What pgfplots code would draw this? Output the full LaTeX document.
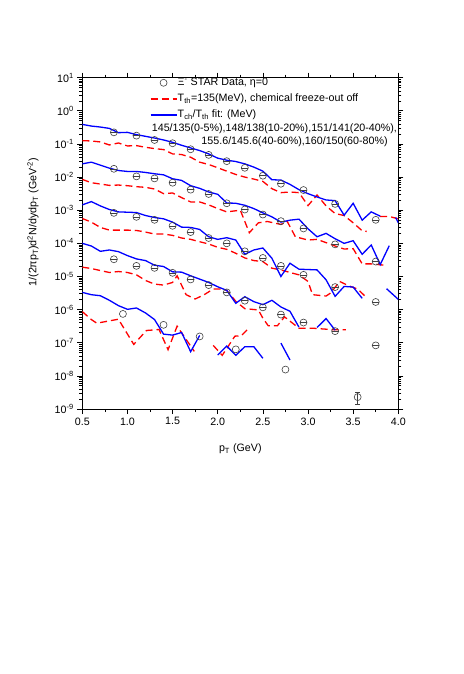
\documentclass[border=0pt]{standalone}
\usepackage{fontspec}
\setmainfont{Liberation Sans}
\usepackage{pgfplots}
\pgfplotsset{compat=1.18}
\begin{document}
\begin{tikzpicture}
\path[use as bounding box] (-82.3pt,-265pt) rectangle (380.7pt,409pt);
\begin{axis}[
  at={(0pt,0pt)}, anchor=south west,
  scale only axis, width=316pt, height=331.3pt,
  ymode=log, xmin=0.5, xmax=4.0, ymin=1e-9, ymax=1e1,
  font=\fontsize{10.7}{12.8}\selectfont,
  xtick={0.5,1,1.5,2,2.5,3,3.5,4},
  xticklabels={0.5,1.0,1.5,2.0,2.5,3.0,3.5,4.0},
  minor x tick num=1,
  ytickten={-9,-8,-7,-6,-5,-4,-3,-2,-1,0,1},
  yticklabels={10\textsuperscript{-9},10\textsuperscript{-8},10\textsuperscript{-7},10\textsuperscript{-6},10\textsuperscript{-5},10\textsuperscript{-4},10\textsuperscript{-3},10\textsuperscript{-2},10\textsuperscript{-1},10\textsuperscript{0},10\textsuperscript{1}},
  tick align=outside,
  major tick length=5pt, minor tick length=3pt,
  axis line style={line width=0.9pt},
  every tick/.style={line width=0.7pt, black},
  xlabel={p\textsubscript{T} (GeV)},
  ylabel={1/(2πp\textsubscript{T})d\textsuperscript{2}N/dydp\textsubscript{T} (GeV\textsuperscript{-2})},
  xlabel style={at={(axis description cs:0.5,-0.121)}, anchor=center},
  ylabel style={at={(axis description cs:-0.156,0.564)}, anchor=center},
  unbounded coords=jump,
  legend style={at={(axis description cs:0.214,1.002)}, anchor=north west, draw=none, fill=none,
    inner sep=0pt, outer sep=0pt, row sep=4.6pt,
    font=\fontsize{10.7}{12.8}\selectfont,
    nodes={inner sep=0.5pt, text height=8pt, text depth=2.5pt}},
  legend cell align=left,
  legend image code/.code={\draw[mark repeat=2,mark phase=2,#1] plot coordinates {(0pt,0pt) (13pt,0pt) (26pt,0pt)};},
]
% legend entries
\addlegendimage{only marks, mark=o, mark size=3.5pt, black!75, mark options={line width=0.6pt}}
\addlegendentry{Ξ\textsuperscript{-} STAR Data, η=0}
\addlegendimage{red, line width=1.3pt, dash pattern=on 7pt off 4pt}
\addlegendentry{T\textsubscript{th}=135(MeV), chemical freeze-out off}
\addlegendimage{blue, line width=1.3pt}
\addlegendentry{T\textsubscript{ch}/T\textsubscript{th} fit: (MeV)}

% ---------- red dashed: chemical freeze-out off ----------
\pgfplotsset{rd/.style={red, line width=1.3pt, dash pattern=on 7pt off 4pt, forget plot}}
\pgfplotsset{bl/.style={blue, line width=1.3pt, forget plot}}
% R1
\addplot[rd] coordinates {(0.5,1.26e-1)(0.6,1.23e-1)(0.7,1.15e-1)(0.8,9.33e-2)(0.9,1.07e-1)(1.0,8.71e-2)(1.1,8.91e-2)(1.2,7.94e-2)(1.3,7.24e-2)(1.4,6.76e-2)(1.5,5.01e-2)(1.6,4.79e-2)(1.7,3.98e-2)(1.8,2.82e-2)(1.9,2.40e-2)(2.0,1.91e-2)(2.1,1.51e-2)(2.2,1.20e-2)(2.3,1.00e-2)(2.4,8.71e-3)(2.5,7.41e-3)(2.6,4.47e-3)(2.7,3.39e-3)(2.8,3.55e-3)(2.9,3.39e-3)(3.0,1.38e-3)(3.1,2.88e-3)(3.2,1.35e-3)(3.3,7.94e-4)(3.4,6.92e-4)(3.5,4.17e-4)(3.6,2.40e-4)(3.65,2.29e-4)(3.72,nan)(3.8,6.46e-4)(3.9,6.46e-4)(4.0,5.50e-4)};
% R2
\addplot[rd] coordinates {(0.5,8.51e-3)(0.6,6.76e-3)(0.7,6.17e-3)(0.8,5.62e-3)(0.9,5.75e-3)(1.0,5.50e-3)(1.1,5.13e-3)(1.2,4.90e-3)(1.3,4.37e-3)(1.4,3.16e-3)(1.5,3.31e-3)(1.6,2.40e-3)(1.7,1.78e-3)(1.8,1.78e-3)(1.9,1.45e-3)(2.0,1.12e-3)(2.1,8.91e-4)(2.25,1.00e-3)(2.35,2.09e-4)(2.45,4.17e-4)(2.55,4.57e-4)(2.7,3.72e-4)(2.77,4.57e-4)(2.86,1.58e-4)(3.0,1.26e-4)(3.1,1.32e-4)(3.2,1.05e-4)(3.3,8.32e-5)(3.4,6.76e-5)(3.5,6.92e-5)(3.6,2.40e-5)(3.7,2.40e-5)(3.85,2.19e-5)};
% R3
\addplot[rd] coordinates {(0.5,5.62e-4)(0.6,4.37e-4)(0.7,3.02e-4)(0.8,2.51e-4)(0.9,2.51e-4)(1.0,2.51e-4)(1.1,2.45e-4)(1.2,2.19e-4)(1.3,1.91e-4)(1.4,1.91e-4)(1.5,1.74e-4)(1.6,1.45e-4)(1.7,1.32e-4)(1.8,1.12e-4)(1.9,9.55e-5)(2.0,7.59e-5)(2.1,6.61e-5)(2.2,5.01e-5)(2.3,3.63e-5)(2.4,3.02e-5)(2.5,2.82e-5)(2.6,1.78e-5)(2.7,1.58e-5)(2.8,1.32e-5)(2.9,1.12e-5)(3.0,7.08e-6)(3.05,2.82e-6)(3.2,2.57e-6)(3.25,3.16e-6)(3.35,7.08e-6)(3.45,5.25e-6)(3.55,4.17e-6)(3.65,2.29e-6)};
% R4
\addplot[rd] coordinates {(0.5,1.91e-5)(0.6,1.74e-5)(0.7,1.51e-5)(0.8,1.32e-5)(0.9,1.41e-5)(1.0,1.32e-5)(1.1,1.12e-5)(1.2,7.59e-6)(1.3,5.89e-6)(1.4,5.50e-6)(1.5,6.61e-6)(1.55,1.05e-5)(1.65,2.82e-6)(1.75,2.09e-6)(1.85,2.82e-6)(1.95,4.17e-6)(2.05,4.17e-6)(2.1,3.80e-6)(2.2,1.78e-6)(2.3,1.07e-6)(2.45,9.77e-7)(2.5,5.50e-7)(2.56,3.24e-7)(2.66,3.24e-7)(2.74,6.03e-7)(2.9,2.75e-7)(3.05,2.75e-7)(3.3,2.45e-7)(3.42,2.45e-7)};
% R5
\addplot[rd] coordinates {(0.5,8.71e-7)(0.6,5.01e-7)(0.66,3.89e-7)(0.8,4.57e-7)(0.9,5.13e-7)(1.07,8.91e-8)(1.21,2.34e-7)(1.35,2.51e-7)(1.45,6.17e-8)(1.55,3.16e-7)(1.74,5.50e-8)(1.85,nan)(1.95,8.32e-8)(2.05,4.17e-8)(2.19,1.58e-7)(2.26,1.62e-7)(2.34,2.69e-7)};

% ---------- blue solid: Tch/Tth fit ----------
% B1
\addplot[bl] coordinates {(0.5,3.89e-1)(0.6,3.47e-1)(0.7,3.24e-1)(0.8,2.95e-1)(0.9,2.19e-1)(1.0,2.24e-1)(1.1,1.91e-1)(1.2,1.70e-1)(1.3,1.51e-1)(1.4,1.32e-1)(1.5,1.12e-1)(1.6,9.12e-2)(1.7,7.59e-2)(1.8,6.31e-2)(1.9,5.01e-2)(2.0,3.72e-2)(2.1,3.24e-2)(2.2,2.95e-2)(2.3,2.51e-2)(2.4,2.00e-2)(2.5,1.51e-2)(2.6,8.32e-3)(2.7,8.13e-3)(2.8,6.03e-3)(2.9,4.17e-3)(3.0,3.16e-3)(3.1,2.51e-3)(3.2,2.04e-3)(3.3,1.95e-3)(3.4,7.08e-4)(3.5,1.62e-3)(3.6,5.01e-4)(3.7,8.91e-4)(3.8,6.61e-4)(3.88,nan)(3.97,6.03e-4)(4.0,4.17e-4)};
% B2
\addplot[bl] coordinates {(0.5,2.51e-2)(0.6,2.82e-2)(0.7,2.29e-2)(0.8,1.86e-2)(0.9,1.58e-2)(1.0,1.48e-2)(1.1,1.48e-2)(1.2,1.38e-2)(1.3,1.26e-2)(1.4,1.17e-2)(1.5,8.91e-3)(1.6,7.94e-3)(1.7,5.50e-3)(1.8,4.57e-3)(1.9,3.55e-3)(2.0,3.02e-3)(2.1,1.66e-3)(2.2,1.62e-3)(2.3,1.41e-3)(2.4,1.12e-3)(2.5,8.32e-4)(2.6,6.31e-4)(2.7,4.37e-4)(2.8,5.01e-4)(2.9,5.37e-4)(3.0,2.75e-4)(3.1,1.58e-4)(3.2,2.00e-4)(3.3,1.38e-4)(3.4,1.00e-4)(3.5,1.20e-4)(3.6,4.68e-5)(3.7,8.91e-5)(3.8,2.29e-5)(3.9,8.51e-5)};
% B3
\addplot[bl] coordinates {(0.5,1.45e-3)(0.6,1.82e-3)(0.7,1.35e-3)(0.8,1.05e-3)(0.9,8.91e-4)(1.0,8.71e-4)(1.1,8.51e-4)(1.2,6.92e-4)(1.3,6.03e-4)(1.4,5.50e-4)(1.5,4.37e-4)(1.6,3.09e-4)(1.7,3.02e-4)(1.8,2.63e-4)(1.9,1.58e-4)(2.0,1.32e-4)(2.1,1.48e-4)(2.2,1.26e-4)(2.3,4.68e-5)(2.4,6.31e-5)(2.5,7.24e-5)(2.6,3.55e-5)(2.7,1.00e-5)(2.8,2.51e-5)(2.9,1.66e-5)(3.0,1.62e-5)(3.1,1.58e-5)(3.2,7.94e-6)(3.3,2.51e-6)(3.4,5.01e-6)(3.5,4.79e-6)(3.6,2.19e-6)(3.75,nan)(3.87,4.27e-6)(4.0,2.04e-6)};
% B4
\addplot[bl] coordinates {(0.5,1.00e-4)(0.6,8.32e-5)(0.7,5.75e-5)(0.8,6.31e-5)(0.9,5.62e-5)(1.0,4.27e-5)(1.1,3.39e-5)(1.2,3.02e-5)(1.3,2.19e-5)(1.4,2.00e-5)(1.5,1.38e-5)(1.6,1.35e-5)(1.7,1.05e-5)(1.8,8.32e-6)(1.9,6.61e-6)(2.0,4.90e-6)(2.1,3.80e-6)(2.2,1.55e-6)(2.3,2.45e-6)(2.4,1.74e-6)(2.5,1.41e-6)(2.6,1.91e-6)(2.7,1.20e-6)(2.8,8.91e-7)(2.9,2.95e-7)(3.0,nan)(3.1,2.88e-7)(3.2,5.37e-7)(3.3,2.40e-7)};
% B5
\addplot[bl] coordinates {(0.5,3.31e-6)(0.6,2.82e-6)(0.7,2.63e-6)(0.8,1.91e-6)(0.9,1.32e-6)(1.0,1.02e-6)(1.1,1.12e-6)(1.2,7.94e-7)(1.3,5.01e-7)(1.4,1.82e-7)(1.5,1.70e-7)(1.6,2.04e-7)(1.7,5.37e-8)(1.8,1.66e-7)(1.9,nan)(2.0,4.27e-8)(2.1,7.94e-8)(2.2,4.17e-8)(2.3,7.59e-8)(2.4,7.59e-8)(2.5,3.39e-8)(2.6,nan)(2.7,9.77e-8)(2.8,3.02e-8)};

% ---------- STAR data ----------
\pgfplotsset{dat/.style={only marks, mark=o, mark size=3.5pt, black!75, mark options={line width=0.6pt}, forget plot,
  error bars/.cd, x dir=both, x fixed=0.038, error mark=none, error bar style={line width=0.5pt, black!75}}}
\addplot[dat] coordinates {(0.85,2.24e-1)(1.1,1.78e-1)(1.3,1.32e-1)(1.5,1.05e-1)(1.7,6.92e-2)(1.9,4.68e-2)(2.1,3.02e-2)(2.3,1.91e-2)(2.5,1.10e-2)(2.7,6.31e-3)(2.95,4.07e-3)(3.3,1.55e-3)(3.75,5.13e-4)};
\addplot[dat] coordinates {(0.85,1.78e-2)(1.1,1.05e-2)(1.3,9.12e-3)(1.5,6.76e-3)(1.7,4.17e-3)(1.9,3.09e-3)(2.1,1.62e-3)(2.3,1.05e-3)(2.5,7.41e-4)(2.7,4.68e-4)(2.95,2.82e-4)(3.3,9.33e-5)(3.75,2.82e-5)};
\addplot[dat] coordinates {(0.85,8.32e-4)(1.1,6.31e-4)(1.3,5.13e-4)(1.5,3.39e-4)(1.7,2.19e-4)(1.9,1.45e-4)(2.1,1.00e-4)(2.3,5.75e-5)(2.5,3.63e-5)(2.7,2.09e-5)(2.95,1.12e-5)(3.3,4.79e-6)(3.75,1.70e-6)};
\addplot[dat] coordinates {(0.85,3.31e-5)(1.1,2.09e-5)(1.3,1.82e-5)(1.5,1.29e-5)(1.7,8.13e-6)(1.9,5.50e-6)(2.1,3.31e-6)(2.3,1.86e-6)(2.5,1.17e-6)(2.7,7.08e-7)(2.95,4.07e-7)(3.3,2.24e-7)(3.75,8.32e-8)};
\addplot[only marks, mark=o, mark size=3.5pt, black!75, mark options={line width=0.6pt}, forget plot]
  coordinates {(0.95,7.41e-7)(1.4,3.47e-7)(1.8,1.55e-7)(2.2,6.31e-8)(2.75,1.55e-8)};
\addplot[only marks, mark=o, mark size=3.5pt, black!75, mark options={line width=0.6pt}, forget plot,
  error bars/.cd, y dir=both, y explicit, error mark=|, error bar style={line width=0.6pt, black!75},
  error mark options={mark size=2.5pt, line width=0.6pt, black!75}]
  coordinates {(3.55,2.29e-9) += (0,0.87e-9) -= (0,0.94e-9)};

\node[anchor=west, inner sep=0pt] at (axis description cs:0.2196,0.847) {145/135(0-5\%),148/138(10-20\%),151/141(20-40\%),};
\node[anchor=east, inner sep=0pt] at (axis description cs:0.967,0.807) {155.6/145.6(40-60\%),160/150(60-80\%)};
\end{axis}
\end{tikzpicture}
\end{document}
